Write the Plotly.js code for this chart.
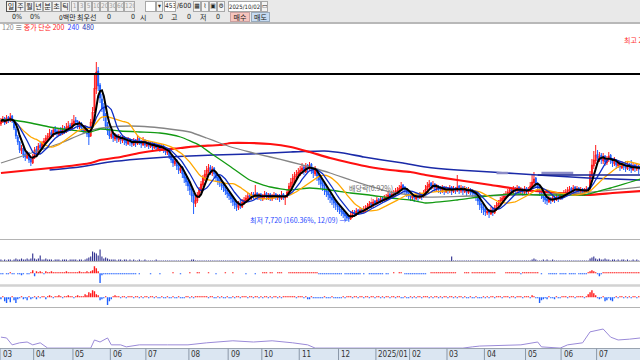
<!DOCTYPE html>
<html><head><meta charset="utf-8">
<script src="https://cdn.plot.ly/plotly-3.0.1.min.js"></script>
<style>
html,body{margin:0;padding:0;width:640px;height:360px;overflow:hidden;background:#fff}
#chart{position:absolute;left:0;top:0;width:640px;height:360px}
#hdr{position:absolute;left:0;top:0;width:640px;height:22px;background:#e9e9e9;border-bottom:2px solid #b8b8b8;font-family:'Noto Sans CJK KR',sans-serif;font-size:7px;color:#222;z-index:5}
.b{position:absolute;top:1px;height:11px;box-sizing:border-box;border:1px solid #a8a8a8;background:#f4f4f4;text-align:center;line-height:9px;overflow:hidden;white-space:nowrap;font-size:7px}
.sel{border-color:#555}
.g{color:#a0a0a0;font-family:'Liberation Sans Narrow','DejaVu Sans Condensed',sans-serif;font-size:6.5px;background:#eee}
.w{background:#fff}
.n{font-family:'Liberation Sans Narrow','DejaVu Sans Condensed',sans-serif;font-size:6.5px}
.t{position:absolute;top:12px;line-height:10px;white-space:nowrap;font-size:7px}
.r2{top:12px;height:10px}
</style></head><body>
<div id="chart"></div>
<div id="hdr">
 <div class="b sel" style="left:6px;width:10px">일</div>
 <div class="b" style="left:16px;width:9px">주</div>
 <div class="b" style="left:25px;width:9px">월</div>
 <div class="b" style="left:34px;width:9px">년</div>
 <div class="b" style="left:43px;width:9px">분</div>
 <div class="b" style="left:52px;width:9px">초</div>
 <div class="b" style="left:61px;width:9px">틱</div>
 <div class="b g" style="left:71px;width:7px">1</div>
 <div class="b g" style="left:78px;width:7px">3</div>
 <div class="b g" style="left:85px;width:7px">5</div>
 <div class="b g" style="left:92px;width:8px">10</div>
 <div class="b g" style="left:100px;width:8px">20</div>
 <div class="b g" style="left:108px;width:8px">30</div>
 <div class="b g" style="left:116px;width:8px">60</div>
 <div class="b g" style="left:124px;width:11px">120</div>
 <div class="b w" style="left:145px;width:11px"></div>
 <div class="b n" style="left:156px;width:7px">▾</div>
 <div class="b w n" style="left:164px;width:12px">453</div>
 <div class="t n" style="left:177px;top:1px">/600</div>
 <div class="b n" style="left:193px;width:8px">▦</div>
 <div class="b n" style="left:201px;width:8px">⌇</div>
 <div class="b n" style="left:209px;width:8px">▣</div>
 <div class="b n" style="left:217px;width:8px">⚙</div>
 <div class="b w n" style="left:228px;width:33px;font-size:6px">2025/10/02</div>
 <div class="b n" style="left:261px;width:7px">▭</div>
 <div class="t n" style="left:12px">0%</div>
 <div class="t n" style="left:30px">0%</div>
 <div class="t" style="left:59px"><span class="n">0</span>백만</div>
 <div class="t" style="left:77px">최우선</div>
 <div class="t n" style="left:107px">0</div>
 <div class="t n" style="left:131px">0</div>
 <div class="t" style="left:140px">시</div>
 <div class="t n" style="left:159px">0</div>
 <div class="t" style="left:171px">고</div>
 <div class="t n" style="left:187px">0</div>
 <div class="t" style="left:200px">저</div>
 <div class="t n" style="left:216px">0</div>
 <div class="b r2" style="left:230px;width:20px;background:#f6c4bd;border-color:#c9a0a0">매수</div>
 <div class="b r2" style="left:251px;width:19px;background:#c6dbf2;border-color:#9ab">매도</div>
</div>
<script>
// ---- price data (thousand won), one value per trading day ----
const openP = [
17.5,17.7,18.1,17.6,18.2,17.8,18.3,17.8,17.0,16.2,
15.7,14.8,15.1,14.5,14.1,14.6,14.0,13.6,14.1,15.0,
14.6,15.4,15.0,15.5,15.8,16.0,16.2,16.7,16.3,17.0,
16.8,16.4,16.9,16.5,17.1,16.7,17.1,17.4,17.0,17.5,
17.9,17.8,17.2,17.6,17.1,16.7,17.1,16.6,16.3,17.6,
18.8,21.0,22.8,21.4,20.0,19.2,18.4,17.4,16.9,16.2,
16.6,16.0,16.4,15.9,16.3,15.8,16.2,15.9,15.5,16.0,
15.8,15.4,15.9,15.5,16.1,15.8,15.4,15.9,15.3,15.7,
15.2,15.6,15.1,15.5,15.0,15.4,14.9,15.3,15.0,14.6,
14.9,14.4,14.0,13.5,13.9,13.4,12.8,13.2,12.6,12.2,
11.8,11.4,11.0,10.4,9.5,9.8,10.3,10.8,11.4,12.0,
12.4,12.8,13.2,12.6,13.1,12.6,12.2,11.9,11.7,11.4,
11.2,10.9,10.6,10.4,10.1,9.8,9.5,9.1,9.6,9.2,
9.6,9.8,10.0,10.4,10.1,10.5,10.2,10.6,10.1,10.5,
10.0,10.2,10.6,10.1,10.5,10.0,10.2,10.5,10.1,10.4,
10.0,10.5,10.1,10.2,10.6,11.2,11.6,12.0,12.2,12.4,
12.6,12.8,13.2,12.7,13.4,13.0,13.5,13.0,12.5,12.9,
12.4,12.0,11.6,11.4,11.0,10.8,10.5,10.2,10.0,9.7,
9.5,9.3,9.0,8.8,8.6,8.4,8.2,8.0,8.3,8.7,
8.4,8.9,8.6,9.0,8.7,8.9,9.0,9.2,9.6,9.3,
9.8,9.5,10.0,9.7,10.1,9.8,10.0,10.1,10.5,10.2,
10.4,10.5,10.7,10.8,11.0,11.4,11.2,11.0,10.7,10.5,
10.1,10.4,10.0,10.4,10.1,10.5,10.2,10.5,10.9,11.2,
11.6,11.2,11.5,11.0,11.3,11.1,10.8,11.2,10.7,11.1,
10.8,11.2,10.7,11.1,10.8,11.3,10.8,11.2,10.7,11.1,
10.6,11.0,10.9,10.7,10.6,10.3,9.9,9.5,9.2,9.0,
8.6,8.9,8.5,9.0,8.6,9.0,9.3,9.5,9.8,10.0,
10.2,10.4,10.6,11.0,10.7,11.1,10.8,11.2,10.7,11.0,
10.6,11.1,10.7,10.8,11.2,11.6,12.1,11.6,11.2,10.8,
10.5,10.2,10.0,9.7,10.1,9.8,10.2,9.9,10.3,10.0,
10.5,10.2,10.5,10.6,10.8,11.1,10.7,11.2,10.8,11.1,
10.7,11.0,10.6,10.7,11.1,11.0,12.3,13.3,13.8,14.5,
14.0,14.4,13.8,14.3,13.6,13.9,14.4,14.0,13.5,13.9,
13.3,13.7,13.1,13.6,13.4,13.0,13.5,13.3,12.9,13.4,
13.0,13.3,12.9];
const highP = [
18.1,18.3,18.2,18.4,18.3,18.6,18.4,17.9,17.2,16.4,
15.8,15.4,15.2,14.8,14.8,14.7,14.3,14.5,15.2,15.3,
15.6,15.7,15.8,16.1,16.4,16.6,17.0,16.9,17.2,17.3,
17.0,17.1,17.2,17.4,17.3,17.6,17.8,17.6,18.0,18.4,
18.2,17.9,17.8,17.7,17.3,17.4,17.2,16.8,18.0,19.2,
22.5,23.7,23.2,21.6,20.5,19.6,18.6,17.7,17.1,16.9,
16.7,16.6,16.5,16.5,16.4,16.4,16.3,16.1,16.2,16.1,
16.0,16.1,16.0,16.3,16.2,15.9,16.2,16.0,15.9,15.8,
15.8,15.7,15.7,15.6,15.6,15.5,15.5,15.4,15.1,15.1,
15.0,14.5,14.2,14.1,14.0,13.5,13.4,13.3,12.7,12.4,
12.0,11.6,11.1,10.6,10.3,10.7,11.2,11.8,12.4,12.9,
13.3,13.5,13.4,13.3,13.2,12.7,12.4,12.1,11.8,11.6,
11.3,11.1,10.8,10.5,10.3,9.9,9.7,9.8,9.9,10.0,
10.2,10.4,10.6,10.6,10.7,10.7,11.4,10.7,10.6,10.6,
10.5,10.8,10.7,10.6,10.6,10.5,10.7,10.6,10.5,10.5,
10.8,10.6,10.4,11.0,11.6,12.1,12.5,12.7,12.9,13.1,
13.3,13.6,13.4,13.6,13.5,13.7,13.6,13.1,13.3,13.0,
12.5,12.1,11.8,11.5,11.2,10.9,10.6,10.4,10.1,9.9,
9.7,9.4,9.2,9.0,8.8,8.5,8.4,8.7,8.9,8.9,
9.1,9.0,9.2,9.1,9.3,9.4,9.6,9.8,9.7,10.0,
9.9,10.2,10.1,10.3,10.2,10.4,10.5,10.7,10.6,10.8,
10.9,11.1,11.2,11.4,11.7,11.5,11.3,11.1,10.8,10.6,
10.6,10.5,10.6,10.5,10.7,10.6,10.9,11.4,11.7,11.9,
11.7,11.8,11.6,11.5,11.4,11.3,11.4,11.3,11.3,11.2,
11.4,11.3,11.3,11.2,12.4,11.4,11.4,11.3,11.3,11.2,
11.2,11.1,11.0,10.8,10.7,10.4,10.0,9.6,9.4,9.1,
9.1,9.0,9.2,9.1,9.4,9.7,9.9,10.2,10.4,10.6,
10.8,11.0,11.2,11.1,11.3,11.2,11.4,11.3,11.2,11.1,
11.3,11.2,11.2,11.7,12.4,12.7,12.2,11.7,11.3,10.9,
10.6,10.3,10.2,10.3,10.2,10.4,10.3,10.5,10.4,10.7,
10.6,10.9,11.0,11.2,11.3,11.2,11.4,11.3,11.3,11.2,
11.2,11.1,11.1,11.3,11.2,12.8,14.0,14.8,15.4,14.9,
14.7,14.6,14.6,14.4,14.3,14.7,14.5,14.1,14.2,14.0,
13.9,13.8,13.8,13.7,13.8,13.7,13.6,13.9,13.6,13.5,
13.5,13.4,13.4];
const lowP = [
17.3,17.6,17.4,17.5,17.6,17.7,17.6,16.9,16.0,15.4,
14.6,14.5,14.1,13.8,14.0,13.6,13.3,13.5,14.0,14.4,
14.5,14.8,14.9,15.3,15.6,15.8,16.1,16.1,16.2,16.4,
16.2,16.3,16.3,16.4,16.5,16.6,16.9,16.8,16.9,17.3,
17.4,17.0,17.0,16.8,16.5,16.6,16.2,15.4,16.2,17.5,
18.6,20.5,20.8,19.6,18.7,17.8,17.0,16.4,16.0,16.0,
15.7,15.8,15.6,15.7,15.5,15.6,15.4,15.3,15.4,15.3,
15.2,15.3,15.2,15.4,15.4,15.1,15.3,15.1,15.2,15.0,
15.1,14.9,15.0,14.8,14.9,14.7,14.8,14.6,14.4,14.4,
14.0,13.6,13.2,13.3,12.9,12.5,12.6,12.1,11.6,11.3,
10.8,10.4,9.7,8.5,9.2,9.6,10.1,10.6,11.2,11.8,
12.2,12.6,12.4,12.3,12.1,11.7,11.4,11.2,10.9,10.7,
10.4,10.1,9.9,9.6,9.3,9.0,8.8,8.9,9.0,9.1,
9.4,9.6,9.8,9.9,9.9,10.0,10.0,9.9,9.9,9.8,
9.8,10.0,9.9,9.9,9.8,9.8,10.0,9.9,9.9,9.7,
9.9,9.9,9.4,10.1,10.5,11.0,11.4,11.7,11.9,12.1,
12.3,12.5,12.4,12.6,12.7,12.8,12.5,12.1,12.3,11.8,
11.4,11.0,10.8,10.4,10.2,9.9,9.6,9.4,9.1,8.9,
8.7,8.5,8.3,8.1,7.9,7.8,7.72,7.9,8.1,8.2,
8.3,8.4,8.5,8.5,8.6,8.7,8.9,9.1,9.1,9.2,
9.3,9.4,9.5,9.6,9.6,9.7,9.8,9.9,10.0,10.1,
10.2,10.3,10.5,10.6,10.8,10.7,10.5,10.2,10.0,9.8,
9.9,9.7,9.9,9.8,10.0,9.9,10.1,10.4,10.7,11.0,
10.9,11.0,10.7,10.8,10.6,10.5,10.6,10.4,10.6,10.5,
10.6,10.4,10.6,10.5,10.7,10.5,10.6,10.4,10.6,10.3,
10.5,10.4,10.2,10.1,9.8,9.4,8.9,8.6,8.4,8.3,
8.4,8.1,8.4,8.3,8.5,8.8,9.1,9.4,9.6,9.8,
10.0,10.2,10.4,10.4,10.5,10.5,10.6,10.4,10.5,10.3,
10.5,10.4,10.5,10.7,11.1,11.4,11.1,10.7,10.3,10.0,
9.7,9.5,9.4,9.6,9.5,9.7,9.6,9.8,9.7,9.9,
9.9,10.1,10.3,10.4,10.6,10.4,10.6,10.5,10.6,10.4,
10.5,10.3,10.4,10.6,10.5,10.8,12.1,13.0,13.5,13.7,
13.7,13.5,13.5,13.3,13.4,13.7,13.5,13.2,13.3,13.0,
13.1,12.8,13.0,12.9,12.7,12.9,12.8,12.6,12.8,12.7,
12.8,12.5,12.7];
const closeP = [
17.8,18.0,17.6,18.1,17.9,18.2,17.8,17.1,16.3,15.7,
14.9,15.1,14.4,14.2,14.6,13.9,13.7,14.2,14.9,14.7,
15.3,15.1,15.6,15.8,16.1,16.3,16.6,16.4,16.9,16.7,
16.5,16.8,16.6,17.0,16.8,17.2,17.3,17.1,17.6,17.8,
17.7,17.3,17.5,17.1,16.8,17.0,16.5,16.2,17.7,18.7,
21.1,22.7,21.3,20.1,19.1,18.3,17.3,16.8,16.3,16.5,
16.1,16.3,16.0,16.2,15.9,16.1,15.8,15.6,15.9,15.7,
15.5,15.8,15.6,16.0,15.7,15.5,15.8,15.4,15.6,15.3,
15.5,15.2,15.4,15.1,15.3,15.0,15.2,14.9,14.7,14.8,
14.3,13.9,13.6,13.8,13.3,12.9,13.1,12.5,12.1,11.7,
11.3,10.9,10.3,9.6,9.9,10.4,10.9,11.5,12.1,12.5,
12.9,13.1,12.7,13.0,12.5,12.1,11.8,11.6,11.3,11.1,
10.8,10.5,10.3,10.0,9.7,9.4,9.2,9.5,9.3,9.7,
9.9,10.1,10.3,10.2,10.4,10.3,10.5,10.2,10.4,10.1,
10.3,10.5,10.2,10.4,10.1,10.3,10.4,10.2,10.3,10.1,
10.4,10.2,10.3,10.7,11.3,11.7,12.1,12.3,12.5,12.7,
12.9,13.1,12.8,13.3,13.1,13.4,12.9,12.6,13.0,12.3,
11.9,11.5,11.3,10.9,10.7,10.4,10.1,9.9,9.6,9.4,
9.2,8.9,8.7,8.5,8.3,8.1,8.0,8.4,8.6,8.5,
8.8,8.7,8.9,8.8,9.0,9.1,9.3,9.5,9.4,9.7,
9.6,9.9,9.8,10.0,9.9,10.1,10.2,10.4,10.3,10.5,
10.6,10.8,10.9,11.1,11.3,11.1,10.9,10.6,10.4,10.2,
10.3,10.1,10.3,10.2,10.4,10.3,10.6,11.0,11.3,11.5,
11.3,11.4,11.1,11.2,11.0,10.9,11.1,10.8,11.0,10.9,
11.1,10.8,11.0,10.9,11.2,10.9,11.1,10.8,11.0,10.7,
10.9,10.8,10.6,10.5,10.2,9.8,9.4,9.1,8.9,8.7,
8.8,8.6,8.9,8.7,9.1,9.4,9.6,9.9,10.1,10.3,
10.5,10.7,10.9,10.8,11.0,10.9,11.1,10.8,10.9,10.7,
11.0,10.8,10.9,11.3,11.7,12.0,11.5,11.1,10.7,10.4,
10.1,9.9,9.8,10.0,9.9,10.1,10.0,10.2,10.1,10.4,
10.3,10.6,10.7,10.9,11.0,10.8,11.1,10.9,11.0,10.8,
10.9,10.7,10.8,11.0,10.9,12.4,13.4,13.9,14.4,14.1,
14.3,13.9,14.2,13.7,14.0,14.3,13.9,13.6,13.8,13.4,
13.6,13.2,13.5,13.3,13.1,13.4,13.2,13.0,13.3,13.1,
13.2,13.0,13.1];

// ---- long moving averages, read at sampled days ----
const ma60Day  = [0,5,16,26,37,48,53,64,74,85,96,106,112,123,133,144,155,165,176,187,197,208,219,227,244,260,275,288,302,312,326,342];
const ma60Val  = [17.9,17.9,17.6,17.2,16.9,16.7,17.0,16.8,16.7,16.6,16.2,15.4,14.6,13.2,11.9,11.2,10.9,11.1,10.9,10.6,10.4,10.1,9.9,9.6,9.9,10.3,10.5,10.4,10.4,10.4,11.1,12.0];
const ma120Day = [0,10,21,32,42,51,58,69,80,90,101,110,117,123,133,144,155,165,176,187,197,208,219,227,251,278,310,342];
const ma120Val = [13.6,14.2,14.9,15.6,16.4,17.0,17.2,17.3,17.2,17.0,16.7,16.1,15.6,15.2,14.7,14.2,13.7,13.2,12.6,11.9,11.3,10.7,10.4,10.2,10.3,10.4,10.6,11.2];
const ma200Day = [0,16,32,48,53,64,74,85,96,106,117,123,133,144,155,165,176,187,197,208,219,227,244,262,280,298,314,327,342];
const ma200Val = [12.6,12.9,13.2,13.6,13.9,14.2,14.6,14.9,15.1,15.3,15.4,15.6,15.6,15.5,15.2,14.7,14.1,13.6,13.2,12.9,12.7,12.4,11.9,11.4,10.9,10.6,10.4,10.6,10.8];
const ma240Day = [26,42,58,74,89,101,114,133,155,173,183,194,204,215,227,244,262,287,314,342];
const ma240Val = [12.9,13.2,13.7,14.0,14.2,14.3,14.4,14.5,14.7,14.8,14.6,14.2,13.9,13.6,13.2,12.9,12.7,12.4,12.1,11.9];

// ---- drawn levels ----
const prevHighLevel = 22.5;
const boxLevel = 12.4, boxFrom = 287, boxTo = 342;
const bandLevel = 12.6, bandRanges = [[265,271],[289,306]];

// ---- lower panels ----
const volume = [
2,1,2,1,2,2,1,2,3,2, 2,3,2,2,3,2,3,8,3,2, 3,6,2,2,3,2,2,2,1,2, 2,2,1,2,2,2,1,2,2,2,
2,1,2,2,1,2,3,4,5,10, 9,8,6,12,5,3,4,3,2,2, 2,2,1,2,2,1,2,2,1,2, 1,2,1,1,2,1,1,2,1,1,
1,1,1,2,1,1,1,1,1,1, 1,1,1,1,1,1,1,1,1,1, 1,1,2,2,1,1,1,1,1,1, 1,1,1,1,1,1,1,1,1,1,
1,1,1,1,1,1,1,1,1,1, 1,1,1,1,1,1,1,1,1,1, 1,1,1,1,1,1,1,1,1,1, 1,1,1,1,1,1,1,1,1,1,
1,1,1,1,1,1,1,1,1,1, 1,1,1,1,1,1,1,1,1,1, 1,1,1,1,1,1,1,1,1,1, 1,1,1,1,1,1,1,1,1,1,
1,1,1,1,1,1,1,1,1,1, 1,1,1,1,1,1,1,1,1,1, 1,1,1,1,1,1,1,1,1,1, 1,1,1,1,1,1,1,1,1,1,
1,5,1,1,1,1,1,1,1,1, 1,1,1,1,1,1,1,1,1,1, 1,1,1,1,1,1,1,1,1,1, 1,1,1,1,1,1,1,1,1,1,
1,1,1,1,2,3,2,1,1,1, 2,1,2,1,1,2,1,1,1,1, 1,1,1,1,1,1,1,1,1,1, 1,1,1,1,1,3,4,5,3,2,
3,2,2,3,2,2,1,2,2,1, 2,1,2,2,1,2,1,1,2,1, 2,1,1];
const flowA = [
-1,-1,0,-1,-1,1,-1,-1,0,-1, -1,-2,-1,0,-1,-1,1,3,-3,2, 1,2,1,-1,2,1,1,2,1,1, 1,1,1,1,1,2,1,1,1,1,
1,1,2,1,1,1,2,1,2,3, 7,5,2,-10,-2,-1,-1,-1,-1,-1, -1,-1,-1,-1,-1,-1,-1,-1,-1,-1, -1,-1,-1,0,-1,0,0,0,0,0,
-1,0,0,0,0,-1,0,0,0,0, 0,0,1,0,0,0,-1,0,0,0, 0,1,0,0,0,1,1,0,0,0, 0,1,0,0,0,-1,0,0,0,0,
1,0,0,0,1,0,0,0,0,0, 0,-1,0,0,0,0,-1,0,0,0, 1,1,1,0,1,1,0,0,1,1, 1,0,0,0,1,1,1,1,1,1,
1,1,1,1,1,1,1,1,1,1, -1,-1,-1,-1,-1,-1,-1,-1,-1,-1, -1,-1,-1,0,-1,-1,-1,-1,-1,-1, -1,-1,-1,0,-1,0,0,-1,-1,-1,
-1,-1,-1,-1,-1,0,-1,-1,0,0, 1,0,0,1,1,0,-1,-1,-1,-1, -1,-1,-1,-1,-1,-1,-1,-1,0,0, 1,1,1,1,1,1,1,1,1,1,
1,1,1,1,0,0,0,0,1,1, 1,0,1,1,1,1,1,1,1,1, 1,1,1,1,1,0,0,0,0,0, 1,1,1,1,1,1,1,1,-1,1,
1,1,1,1,1,1,1,1,0,-1, 0,0,0,-1,-1,-1,-1,-1,0,-1, -1,-1,-1,0,-1,-1,-1,-1,0,-1, -1,-1,-1,-1,1,2,3,2,1,-1,
-3,-1,1,1,1,1,1,1,1,1, 1,1,1,1,1,1,1,1,1,1, 1,1,1];
const flowB = [
-2,1,-4,-6,-2,-5,1,-3,-6,-2, -1,1,-2,-1,-3,1,-2,-1,1,-2, 1,-1,1,1,-2,1,2,1,-1,1, 1,2,1,-1,1,1,2,1,1,-1,
1,2,1,1,1,3,2,5,4,7, 6,3,2,-3,-2,-1,1,-8,-4,-2, 1,2,1,1,-1,1,1,-1,1,1, 1,-1,1,1,-1,1,-1,1,1,-1,
1,1,-1,1,-1,-1,1,-1,-1,1, -1,-1,1,-1,-1,1,-1,-1,-1,1, 1,-1,1,-1,1,1,1,1,1,1, 1,-1,1,1,-1,-1,1,-1,1,-1,
-1,1,-1,-1,1,-1,1,1,-1,1, 1,1,-1,1,1,-1,1,1,-1,1, -1,1,1,-1,1,-1,1,1,-1,1, -1,1,1,1,1,1,1,1,-1,1,
1,1,-1,1,-2,-2,1,-1,-1,-1, -1,-1,-1,1,-1,-1,-1,1,-1,-1, -1,-1,-1,1,-1,1,1,1,-1,1, 1,-1,1,1,-1,1,1,-1,1,1,
-1,1,1,-1,1,-1,1,1,-1,1, 1,-1,1,1,-1,-1,1,-1,-1,1, -1,1,-1,1,1,-1,1,1,1,-1, 1,-1,1,1,-1,1,-1,1,1,-1,
1,1,-1,1,-1,1,1,-1,1,-1, -1,1,-1,-1,1,-1,-1,-1,1,-1, 1,-1,1,1,-1,1,1,1,-1,1, 1,1,-1,1,1,-1,1,1,1,-1,
1,1,1,-1,2,1,-1,-1,-6,-3, -2,-1,-2,1,-1,-1,-2,1,-1,-1, 1,1,1,-1,1,1,1,-1,1,1, 1,1,-1,1,3,5,7,4,2,-1,
-2,-1,1,-4,-3,-1,-3,-4,-1,1, -1,1,1,-1,1,-1,1,-1,1,1, -1,1,1];
const oscDay = [0,3,6,10,14,17,21,25,48,50,53,57,59,64,67,74,89,100,110,124,135,145,156,164,168,247,252,256,278,287,289,299,303,311,315,319,322,326,330,336,342];
const oscVal = [28,26,9,14,16,9,14,1,1,21,16,26,9,9,4,9,9,9,14,19,16,19,14,9,1,1,4,6,9,16,4,1,9,14,41,46,48,28,21,23,26];

// ---- axis labels ----
const monthLabels = ['03','04','05','06','07','08','09','10','11','12','2025/01','02','03','04','05','06','07'];
const monthDays   = [18,21,20,19,23,21,18,20,21,20,18,20,20,22,19,19,23];

// ---- derived ----
const days = closeP.map((_, i) => i);
function sma(v, n) {
  return v.map((_, i) => { const s = Math.max(0, i - n + 1); let t = 0; for (let k = s; k <= i; k++) t += v[k]; return t / (i - s + 1); });
}
const ma5 = sma(closeP, 5), ma10 = sma(closeP, 10), ma20 = sma(closeP, 20);
let acc = 0;
const monthStarts = monthDays.map(d => { const s = acc; acc += d; return s; });

const RED = '#ff1a1a', BLUE = '#2060ff';
const FONT = "'Noto Sans CJK KR','Noto Sans',sans-serif";
const NARROW = "'Liberation Sans Narrow','DejaVu Sans Condensed',sans-serif";

const line = (x, y, color, width) => ({type:'scatter', mode:'lines', x, y, line:{color, width}, hoverinfo:'skip', xaxis:'x', yaxis:'y'});

const traces = [
  {type:'candlestick', x:days, open:openP, high:highP, low:lowP, close:closeP,
   increasing:{line:{color:RED, width:1}, fillcolor:RED},
   decreasing:{line:{color:BLUE, width:1}, fillcolor:BLUE},
   whiskerwidth:0, hoverinfo:'skip', xaxis:'x', yaxis:'y'},
  line(ma240Day, ma240Val, '#1a2aa8', 1.6),
  line(ma200Day, ma200Val, '#ff1010', 2.2),
  line(ma120Day, ma120Val, '#858585', 1.3),
  line(ma60Day, ma60Val, '#129a12', 1.3),
  line(days, ma20, '#ffa800', 1.3),
  line(days, ma10, '#1030c8', 1.3),
  line(days, ma5, '#000000', 2),
  {type:'bar', x:days, y:volume, width:0.6, marker:{color:'#303090', line:{width:0}}, hoverinfo:'skip', xaxis:'x', yaxis:'y2'},
  {type:'bar', x:days, y:flowA, width:0.75, marker:{color:flowA.map(v => v > 0 ? RED : BLUE), line:{width:0}}, hoverinfo:'skip', xaxis:'x', yaxis:'y3'},
  {type:'bar', x:days, y:flowB, width:0.75, marker:{color:flowB.map(v => v > 0 ? RED : BLUE), line:{width:0}}, hoverinfo:'skip', xaxis:'x', yaxis:'y4'},
  {type:'scatter', mode:'lines', x:oscDay, y:oscVal, line:{color:'#9a8ad8', width:1}, hoverinfo:'skip', xaxis:'x', yaxis:'y5'}
];
[1,2,3,4].forEach(k => { traces[k].line.shape = 'spline'; traces[k].line.smoothing = 0.5; });

const hidden = {visible:false, showgrid:false, zeroline:false, fixedrange:true};
const shapes = [];
const pline = (y, color, w) => shapes.push({type:'line', xref:'paper', yref:'paper', x0:0, x1:1, y0:y, y1:y, line:{color, width:w}});
pline(1 - 239.5/360, '#b4b4b4', 1);
pline(1 - 261.5/360, '#b4b4b4', 1);
shapes.push({type:'rect', xref:'paper', yref:'paper', x0:0, x1:1, y0:1-286.8/360, y1:1-284.3/360, fillcolor:'#d2d2d2', line:{width:0}});
pline(1 - 307.5/360, '#b4b4b4', 1);
shapes.push({type:'rect', xref:'paper', yref:'paper', x0:0, x1:1, y0:0, y1:1-348.5/360, fillcolor:'#dbe6f2', line:{width:0}});
pline(1 - 348.5/360, '#9aa4b0', 1);
monthStarts.forEach(s => shapes.push({type:'line', xref:'x', yref:'paper', x0:s-0.5, x1:s-0.5, y0:0, y1:1-348.5/360, line:{color:'#8a97a8', width:1}}));
shapes.push({type:'line', xref:'paper', yref:'y', x0:0, x1:1, y0:prevHighLevel, y1:prevHighLevel, line:{color:'#000', width:2}});
bandRanges.forEach(r => shapes.push({type:'line', xref:'x', yref:'y', x0:r[0], x1:r[1], y0:bandLevel, y1:bandLevel, line:{color:'#8c8cc8', width:2.5}}));
shapes.push({type:'line', xref:'x', yref:'y', x0:boxFrom, x1:boxTo, y0:boxLevel, y1:boxLevel, line:{color:'#16208f', width:1.4}});

const lowDay = 186, highLabelDay = 332;
const annotations = [
  {xref:'paper', yref:'paper', x:0, y:1-27.5/360, xanchor:'left', yanchor:'middle', showarrow:false,
   font:{family:FONT, size:7, color:'#333'},
   text:'<span style="color:#8c8c8c">120</span> <span style="color:#555">≡</span> <span style="color:#ff2020">종가 단순 200</span>  <span style="color:#3040ff">240</span>  <span style="color:#2030b0">480</span>'},
  {xref:'x', yref:'y', x:lowDay, y:lowP[lowDay], xanchor:'right', yanchor:'middle', xshift:-1, yshift:2, showarrow:false,
   font:{family:FONT, size:7, color:'#2848ff'}, text:'최저 7,720 (160.36%, 12/09) →'},
  {xref:'x', yref:'y', x:198, y:11.1, xanchor:'center', yanchor:'middle', showarrow:false,
   font:{family:FONT, size:7, color:'#6a6a6a'}, text:'배당락(0.92%)'},
  {xref:'x', yref:'y', x:198, y:9.95, xanchor:'center', yanchor:'middle', showarrow:false,
   font:{family:FONT, size:7, color:'#ff2020'}, text:'↓'},
  {xref:'x', yref:'y', x:highLabelDay, y:25.9, xanchor:'left', yanchor:'middle', showarrow:false,
   font:{family:FONT, size:7, color:'#ff3030'}, text:'최고 25,900'}
];
monthLabels.forEach((m, k) => annotations.push({xref:'x', yref:'paper', x:monthStarts[k]-0.5, y:(1-348.5/360)/2, xanchor:'left', yanchor:'middle', xshift:0.5, showarrow:false,
  font:{family:NARROW, size:8, color:'#333'}, text:m}));

const layout = {
  width:640, height:360, margin:{l:0, r:0, t:0, b:0, pad:0},
  paper_bgcolor:'#ffffff', plot_bgcolor:'rgba(0,0,0,0)', showlegend:false, hovermode:false,
  xaxis:Object.assign({}, hidden, {range:[-0.5, 341.7], rangeslider:{visible:false}, domain:[0,1]}),
  yaxis:Object.assign({}, hidden, {domain:[1-238/360, 1-24/360], range:[6.1, 27.5]}),
  yaxis2:Object.assign({}, hidden, {domain:[1-261.5/360, 1-240/360], range:[0, 21.5], anchor:'x'}),
  yaxis3:Object.assign({}, hidden, {domain:[1-284.3/360, 1-262/360], range:[-11.2, 11.2], anchor:'x'}),
  yaxis4:Object.assign({}, hidden, {domain:[1-307.5/360, 1-286.8/360], range:[-10.4, 10.4], anchor:'x'}),
  yaxis5:Object.assign({}, hidden, {domain:[1-348.5/360, 1-307.5/360], range:[0, 101], anchor:'x'}),
  shapes, annotations
};
Plotly.newPlot('chart', traces, layout, {staticPlot:true, displayModeBar:false});
</script>
</body></html>
